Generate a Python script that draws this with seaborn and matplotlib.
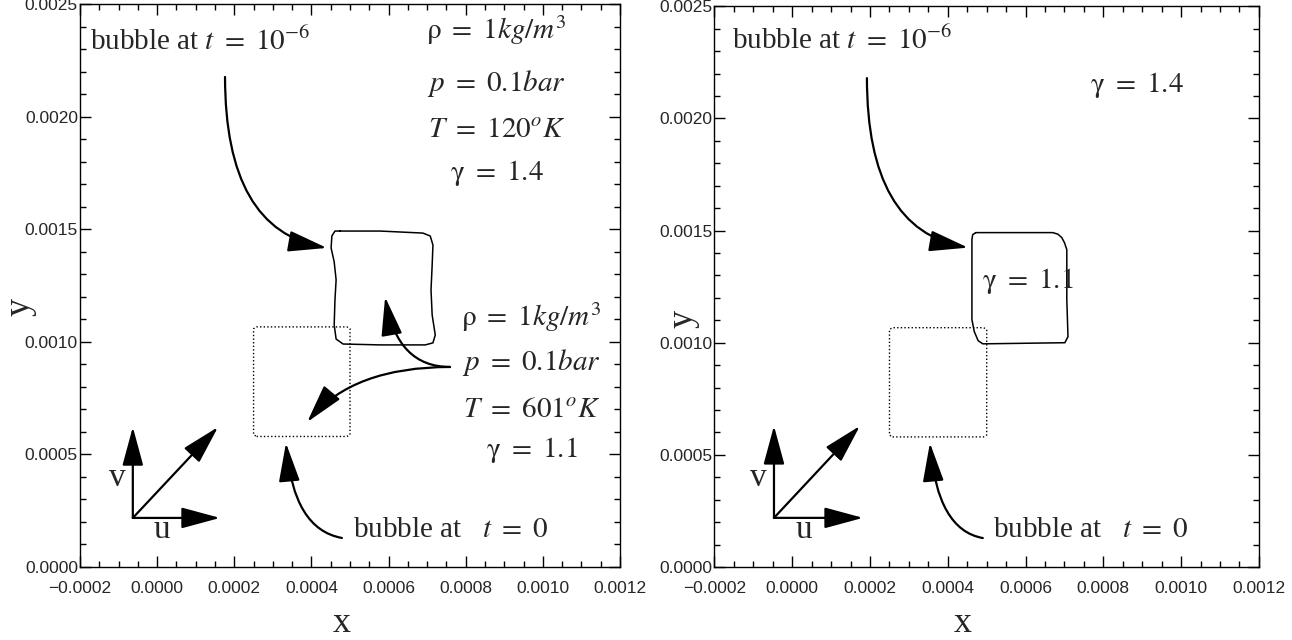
import matplotlib
matplotlib.use("Agg")
import matplotlib.pyplot as plt
from matplotlib.ticker import FuncFormatter, MultipleLocator
import seaborn as sns

# ---- data ----
x_range = [-0.0002, 0.0012]
y_range = [0.0, 0.0025]

# initial bubble (dotted), same in both panels
bubble0_x = [0.000258, 0.000492, 0.0005, 0.0005, 0.000492, 0.000258, 0.00025, 0.00025, 0.000258]
bubble0_y = [0.00058, 0.00058, 0.000588, 0.001059, 0.001067, 0.001067, 0.001059, 0.000588, 0.00058]

# bubble outline at t = 1e-6, left panel
left_bubble_x = [0.000474, 0.000578, 0.000689, 0.000708, 0.000715, 0.000713, 0.000710, 0.000713,
                 0.000721, 0.000715, 0.000695, 0.000578, 0.000482, 0.000464, 0.000459, 0.000461,
                 0.000464, 0.000459, 0.000451, 0.000453, 0.000461, 0.000474]
left_bubble_y = [0.001493, 0.001493, 0.001484, 0.001471, 0.001431, 0.001342, 0.001231, 0.001120,
                 0.001031, 0.000996, 0.000987, 0.000987, 0.000991, 0.001013, 0.001076, 0.001187,
                 0.001276, 0.001356, 0.001418, 0.001471, 0.001493, 0.001493]

# bubble outline at t = 1e-6, right panel
right_bubble_x = [0.000472, 0.00067, 0.000683, 0.000693, 0.0007, 0.000706, 0.000706, 0.000709,
                  0.000701, 0.00049, 0.000478, 0.000468, 0.000462, 0.000462, 0.000464, 0.000472]
right_bubble_y = [0.001491, 0.001491, 0.001484, 0.001469, 0.001446, 0.001415, 0.001192, 0.001027,
                  0.0010, 0.000995, 0.001009, 0.00105, 0.001103, 0.00146, 0.001482, 0.001491]

# arrows: (start, tip)
left_arrow_top = [(0.000176, 0.002178), (0.00044, 0.001418)]
left_arrow_up = [(0.000759, 0.000889), (0.000591, 0.0012)]
left_arrow_down = [(0.000759, 0.000889), (0.000389, 0.000644)]
left_arrow_t0 = [(0.000479, 0.000129), (0.000334, 0.000551)]
right_arrow_top = [(0.000192, 0.00218), (0.000452, 0.001424)]
right_arrow_t0 = [(0.00049, 0.000129), (0.000354, 0.000553)]

# velocity sketch: origin, v tip, u tip, diagonal tip
left_uv = [(-0.000063, 0.000218), (-0.000063, 0.000622), (0.000163, 0.000218), (0.000158, 0.000622)]
right_uv = [(-0.000047, 0.000219), (-0.000047, 0.000629), (0.000182, 0.000219), (0.000174, 0.000629)]
left_uv_labels = [(-0.000104, 0.000396), (0.000013, 0.000164)]
right_uv_labels = [(-0.000088, 0.000397), (0.00003, 0.000165)]

# text labels
title_top = r"bubble at $t\ =\ 10^{-6}$"
title_t0 = r"bubble at   $t\ =\ 0$"
outer_gas = [r"$\mathrm{\rho}\ =\ 1kg/m^{3}$", r"$p\ =\ 0.1bar$", r"$T\ =\ 120^{o}K$", r"$\mathrm{\gamma}\ =\ 1.4$"]
outer_gas_y = [0.002347, 0.002115, 0.001911, 0.00172]
inner_gas = [r"$\mathrm{\rho}\ =\ 1kg/m^{3}$", r"$p\ =\ 0.1bar$", r"$T\ =\ 601^{o}K$", r"$\mathrm{\gamma}\ =\ 1.1$"]
inner_gas_y = [0.001071, 0.000876, 0.000667, 0.000489]

SERIF = "Liberation Serif"
TXT = 21
HEAD = "-|>,head_length=2.4,head_width=0.65"


def fmt(v, pos):
    if abs(v) < 1e-12:
        v = 0.0
    return f"{v:.4f}".replace("-", "\u2212")


def arrow(ax, pts, conn="arc3,rad=0"):
    ax.annotate("", xy=pts[1], xytext=pts[0],
                arrowprops=dict(arrowstyle=HEAD, connectionstyle=conn, color="black",
                                lw=1.6, shrinkA=0, shrinkB=0, mutation_scale=10))


def setup_axes(ax):
    ax.set_xlim(*x_range)
    ax.set_ylim(*y_range)
    ax.xaxis.set_major_locator(MultipleLocator(0.0002))
    ax.xaxis.set_minor_locator(MultipleLocator(0.00005))
    ax.yaxis.set_major_locator(MultipleLocator(0.0005))
    ax.yaxis.set_minor_locator(MultipleLocator(0.0001))
    ax.xaxis.set_major_formatter(FuncFormatter(fmt))
    ax.yaxis.set_major_formatter(FuncFormatter(fmt))
    ax.tick_params(which="both", direction="in", top=True, right=True, color="black",
                   labelsize=12.5, width=1)
    ax.tick_params(which="major", length=8)
    ax.tick_params(which="minor", length=4)
    ax.tick_params(axis="x", pad=10)
    ax.tick_params(axis="y", pad=1.5)
    for s in ax.spines.values():
        s.set_color("black")
        s.set_linewidth(1)


def draw_uv(ax, uv, labels):
    arrow(ax, [uv[0], uv[1]])
    arrow(ax, [uv[0], uv[2]])
    arrow(ax, [uv[0], uv[3]])
    ax.text(*labels[0], "v", family=SERIF, fontsize=24, ha="center", va="center")
    ax.text(*labels[1], "u", family=SERIF, fontsize=24, ha="center", va="center")


sns.set_theme(style="ticks")
plt.rcParams["font.family"] = ["Liberation Sans", "DejaVu Sans"]
plt.rcParams["mathtext.fontset"] = "stix"

fig = plt.figure(figsize=(12.92, 6.4), dpi=100)
ax1 = fig.add_axes([0.0619, 0.1141, 0.4180, 0.8789])
ax2 = fig.add_axes([0.5530, 0.1141, 0.4214, 0.8760])

for ax, bx, by in [(ax1, left_bubble_x, left_bubble_y), (ax2, right_bubble_x, right_bubble_y)]:
    setup_axes(ax)
    sns.lineplot(x=bubble0_x, y=bubble0_y, sort=False, estimator=None, color="black",
                 lw=1, linestyle=(0, (1, 1.6)), ax=ax)
    sns.lineplot(x=bx, y=by, sort=False, estimator=None, color="black", lw=1.1, ax=ax)

# left panel
arrow(ax1, left_arrow_top, "angle3,angleA=-90,angleB=-10")
arrow(ax1, left_arrow_up, "angle3,angleA=180,angleB=100")
arrow(ax1, left_arrow_down, "angle3,angleA=0,angleB=50")
arrow(ax1, left_arrow_t0, "angle3,angleA=-10,angleB=95")
draw_uv(ax1, left_uv, left_uv_labels)
ax1.text(-0.000174, 0.002298, title_top, family=SERIF, fontsize=TXT, va="baseline")
ax1.text(0.000508, 0.000133, title_t0, family=SERIF, fontsize=TXT, va="baseline")
for s, yy in zip(outer_gas, outer_gas_y):
    ax1.text(0.00088, yy, s, family=SERIF, fontsize=TXT, ha="center", va="baseline")
for s, yy in zip(inner_gas, inner_gas_y):
    ax1.text(0.00097, yy, s, family=SERIF, fontsize=TXT, ha="center", va="baseline")

# right panel
arrow(ax2, right_arrow_top, "angle3,angleA=-90,angleB=-10")
arrow(ax2, right_arrow_t0, "angle3,angleA=-10,angleB=95")
draw_uv(ax2, right_uv, right_uv_labels)
ax2.text(-0.000155, 0.002308, title_top, family=SERIF, fontsize=TXT, va="baseline")
ax2.text(0.000515, 0.000134, title_t0, family=SERIF, fontsize=TXT, va="baseline")
ax2.text(0.000887, 0.00212, outer_gas[3], family=SERIF, fontsize=TXT, ha="center", va="baseline")
ax2.text(0.000488, 0.001245, inner_gas[3], family=SERIF, fontsize=TXT, ha="left", va="baseline")

# axis labels
for ax, xl, yl in [(ax1, (0.485, -0.116), (-0.111, 0.463)), (ax2, (0.456, -0.116), (-0.057, 0.443))]:
    ax.set_xlabel("x", family=SERIF, fontsize=26)
    ax.set_ylabel("y", family=SERIF, fontsize=26)
    ax.xaxis.label.set_va("baseline")
    ax.yaxis.label.set_va("center")
    ax.xaxis.set_label_coords(*xl)
    ax.yaxis.set_label_coords(*yl)

fig.savefig("out.png", dpi=100)
